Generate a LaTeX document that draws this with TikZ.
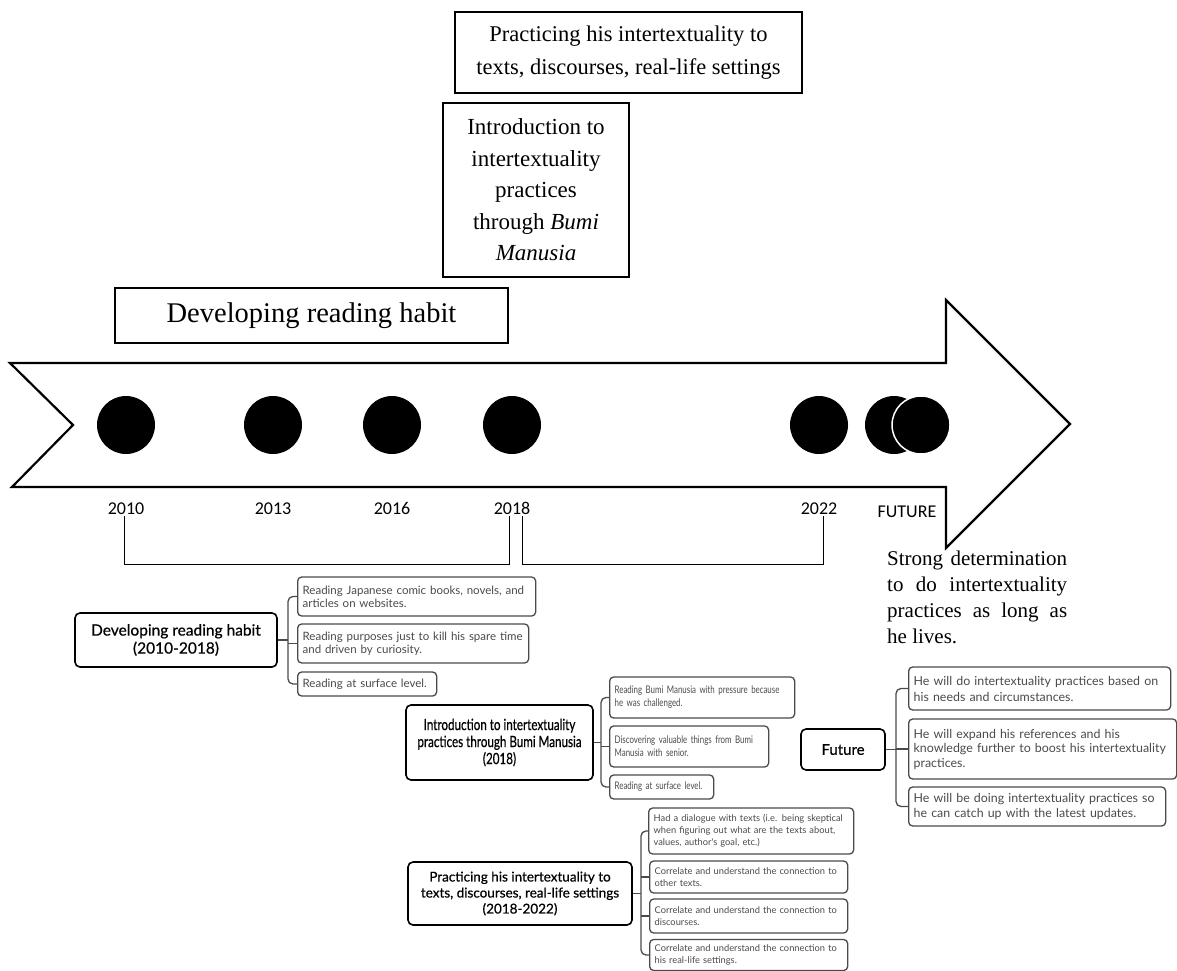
\documentclass[tikz,border=0pt]{standalone}
\usepackage{fontspec}
\setmainfont{Liberation Serif}
\newfontfamily\yearfont{Carlito}
\newfontfamily\mapfont{Lato}
\newfontfamily\mapbold{Lato}[FakeBold=0.6]
\newfontfamily\mapnarrow{Lato}[FakeStretch=0.75]
\newfontfamily\mapnarrowbold{Lato}[FakeStretch=0.75,FakeBold=0.6]
\definecolor{leafgray}{HTML}{4A4A4A}
\tikzset{
	topbox/.style={draw, line width=1.5pt, align=center, inner sep=0pt},
	dot/.style={circle, fill=black, inner sep=0pt, minimum size=58pt},
	yearlabel/.style={font=\yearfont\fontsize{18}{20}\selectfont, inner sep=2pt, anchor=base},
	mainbox/.style={draw, line width=1.6pt, rounded corners=5pt, align=center, inner sep=0pt},
	leaf/.style={draw=leafgray, line width=1.3pt, rounded corners=4pt, align=left, anchor=west,
			inner xsep=5pt, inner ysep=0pt, text=leafgray, text width=#1},
	mapline/.style={draw=leafgray, line width=1.3pt, rounded corners=5pt}
}

\begin{document}
\begin{tikzpicture}[x=1pt, y=-1pt]
		\useasboundingbox (0,0) rectangle (1177,971);
		\draw[line width=2.2pt, line join=miter] (10,363) -- (946,363) -- (946,300) -- (1070,424) -- (946,548)
			-- (946,487) -- (12,487) -- (73,425) -- cycle;

		\node[topbox, minimum width=347pt, minimum height=81pt, font=\fontsize{22.5}{33}\selectfont]
			(practiceTop) at (628.5,52.5) {Practicing his intertextuality to\\texts, discourses, real-life settings};
		\node[topbox, minimum width=186pt, minimum height=174pt, font=\fontsize{23}{31.5}\selectfont]
			(introTop) at (536,190) {Introduction to\\intertextuality\\practices\\through \textit{Bumi}\\\textit{Manusia}};
		\node[topbox, minimum width=393pt, minimum height=55pt, font=\fontsize{28.5}{34}\selectfont]
			(devTop) at (311.5,315.5) {Developing reading habit};

		\foreach \yr/\px in {2010/126, 2013/273, 2016/392, 2018/512, 2022/819} {
			\node[dot] (dot\yr) at (\px,425) {};
			\node[yearlabel] (y\yr) at (\px,514) {\yr};
		}
		\node[dot] (dotFutA) at (894,425) {};
		\node[dot, draw=white, line width=1.5pt] (dotFutB) at (921,425) {};
		\node[yearlabel] (yFuture) at (907,517) {FUTURE};

		\draw[line width=1pt] ([xshift=-2pt]y2010.south) -- ++(0,48) -| ([xshift=-3pt]y2018.south);
		\draw[line width=1pt] ([xshift=10pt]y2018.south) -- ++(0,48) -| ([xshift=4pt]y2022.south);

		\node[anchor=north west, inner sep=0pt, align=left, font=\fontsize{21}{26}\selectfont] (futureNote) at (887,551)
			{\makebox[180pt][s]{Strong determination}\\\makebox[180pt][s]{to do intertextuality}\\
			\makebox[180pt][s]{practices as long as}\\he lives.};

		% developing reading habit
		\node[mainbox, minimum width=202pt, minimum height=54pt, font=\mapbold\fontsize{15.5}{18}\selectfont]
			(mDev) at (176,640) {Developing reading habit\\(2010-2018)};
		\node[leaf=228pt, minimum height=39pt, font=\mapfont\fontsize{11.5}{13}\selectfont] (lDevA) at (297,596.5)
			{Reading Japanese comic books, novels, and\\articles on websites.};
		\node[leaf=221pt, minimum height=39pt, font=\mapfont\fontsize{11.5}{13}\selectfont] (lDevB) at (297,643.5)
			{Reading purposes just to kill his spare time\\and driven by curiosity.};
		\node[leaf=129pt, minimum height=24pt, font=\mapfont\fontsize{11.5}{13}\selectfont] (lDevC) at (297,684)
			{Reading at surface level.};
		\coordinate (bDev) at (288,640);
		\draw[mapline] (mDev) -- (bDev);
		\draw[mapline] (lDevA.west) -| (bDev) |- (lDevC.west);
		\draw[mapline] (lDevB.west) -- (lDevB.west -| bDev);

		% introduction through bumi manusia
		\node[mainbox, minimum width=187pt, minimum height=75pt, font=\mapnarrowbold\fontsize{15.5}{17}\selectfont]
			(mIntro) at (499.5,742.5) {Introduction to intertextuality\\practices through Bumi Manusia\\(2018)};
		\node[leaf=175pt, minimum height=41pt, font=\mapnarrow\fontsize{10.5}{13}\selectfont] (lIntroA) at (609,697.5)
			{Reading Bumi Manusia with pressure because\\he was challenged.};
		\node[leaf=149pt, minimum height=41pt, font=\mapnarrow\fontsize{10.5}{13}\selectfont] (lIntroB) at (609,746.5)
			{Discovering valuable things from Bumi\\Manusia with senior.};
		\node[leaf=94pt, minimum height=24pt, font=\mapnarrow\fontsize{10.5}{13}\selectfont] (lIntroC) at (609,787)
			{Reading at surface level.};
		\coordinate (bIntro) at (601,742.5);
		\draw[mapline] (mIntro) -- (bIntro);
		\draw[mapline] (lIntroA.west) -| (bIntro) |- (lIntroC.west);
		\draw[mapline] (lIntroB.west) -- (lIntroB.west -| bIntro);

		% practicing intertextuality
		\node[mainbox, minimum width=224pt, minimum height=63pt, font=\mapbold\fontsize{13.5}{16}\selectfont]
			(mPrac) at (520,893.5) {Practicing his intertextuality to\\texts, discourses, real-life settings\\(2018-2022)};
		\node[leaf=195pt, minimum height=46pt, font=\mapfont\fontsize{9.3}{12}\selectfont] (lPracA) at (648,831)
			{Had a dialogue with texts (i.e. being skeptical\\when figuring out what are the texts about,\\values, author's goal, etc.)};
		\node[leaf=188pt, minimum height=32pt, font=\mapfont\fontsize{9.3}{12}\selectfont] (lPracB) at (649,877)
			{Correlate and understand the connection to\\other texts.};
		\node[leaf=188pt, minimum height=34pt, font=\mapfont\fontsize{9.3}{12}\selectfont] (lPracC) at (649,916)
			{Correlate and understand the connection to\\discourses.};
		\node[leaf=188pt, minimum height=31pt, font=\mapfont\fontsize{9.3}{12}\selectfont] (lPracD) at (649,955)
			{Correlate and understand the connection to\\his real-life settings.};
		\coordinate (bPrac) at (641,893.5);
		\draw[mapline] (mPrac) -- (bPrac);
		\draw[mapline] (lPracA.west) -| (bPrac) |- (lPracD.west);
		\draw[mapline] (lPracB.west) -- (lPracB.west -| bPrac);
		\draw[mapline] (lPracC.west) -- (lPracC.west -| bPrac);

		% future
		\node[mainbox, minimum width=84pt, minimum height=41pt, font=\mapbold\fontsize{15}{18}\selectfont]
			(mFut) at (843,749.5) {Future};
		\node[leaf=252pt, minimum height=43pt, font=\mapfont\fontsize{12.4}{16}\selectfont] (lFutA) at (908,688.5)
			{He will do intertextuality practices based on\\his needs and circumstances.};
		\node[leaf=258pt, minimum height=60pt, font=\mapfont\fontsize{12.4}{14.5}\selectfont] (lFutB) at (908,749)
			{He will expand his references and his\\knowledge further to boost his intertextuality\\practices.};
		\node[leaf=247pt, minimum height=39pt, font=\mapfont\fontsize{12.4}{14.5}\selectfont] (lFutC) at (908,806.5)
			{He will be doing intertextuality practices so\\he can catch up with the latest updates.};
		\coordinate (bFut) at (896,749.5);
		\draw[mapline] (mFut) -- (bFut);
		\draw[mapline] (lFutA.west) -| (bFut) |- (lFutC.west);
		\draw[mapline] (lFutB.west) -- (lFutB.west -| bFut);
	\end{tikzpicture}
\end{document}
